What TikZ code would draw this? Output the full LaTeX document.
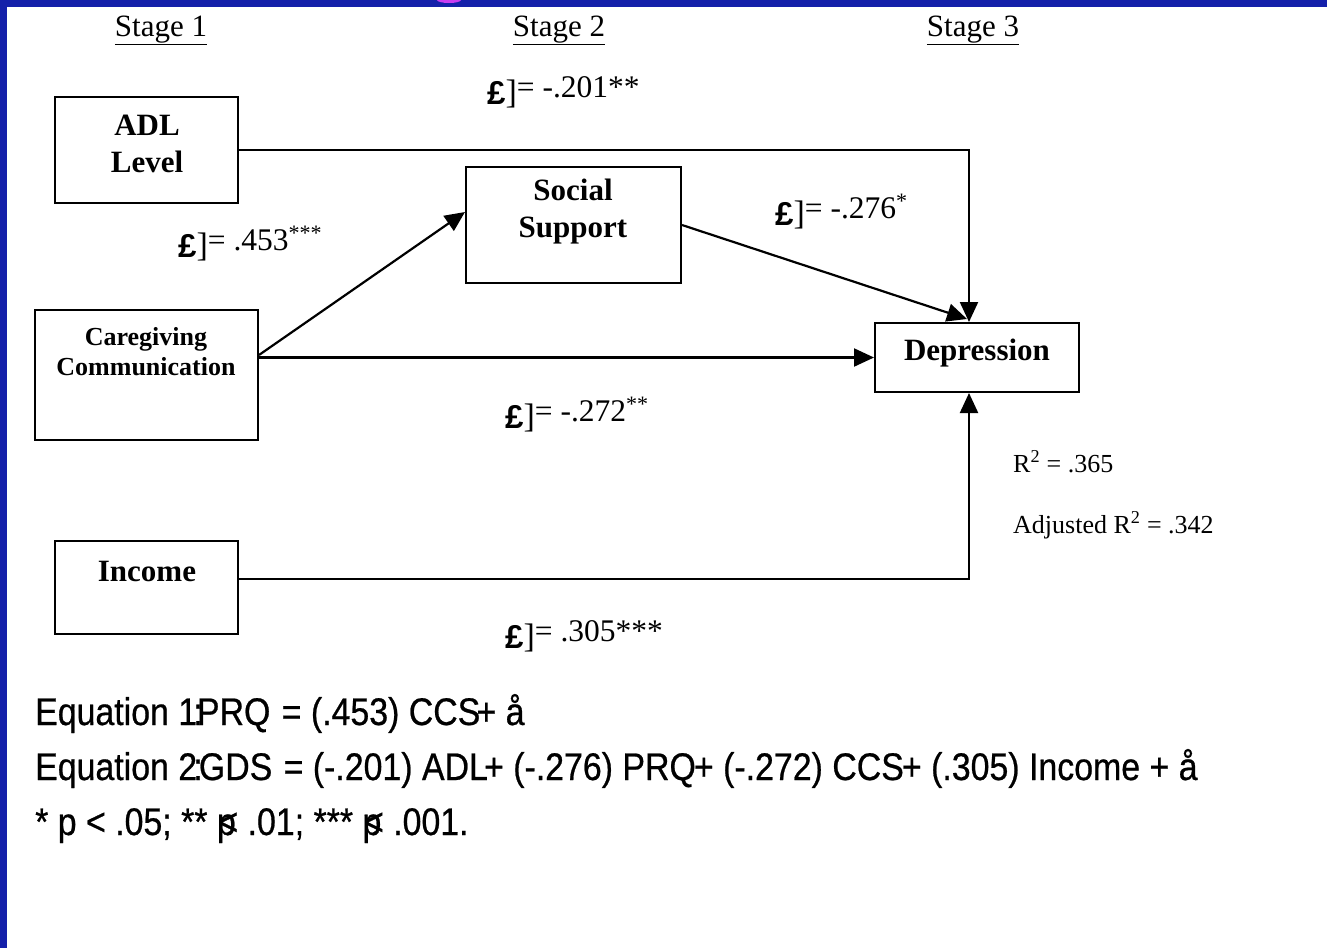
\documentclass[tikz,border=0pt]{standalone}
\usepackage{fontspec}
\setmainfont{Liberation Serif}
\newfontfamily\lsans{Liberation Sans}
\newfontfamily\eqfont[FakeStretch=0.88,FakeBold=0.6]{Liberation Sans}
\usetikzlibrary{arrows.meta}
\definecolor{slideblue}{RGB}{20,32,170}
\definecolor{slidemag}{RGB}{200,60,240}
\newcommand{\betalbl}{\raisebox{-7pt}{\fontsize{33}{36}\lsans\bfseries £}\raisebox{-6pt}{\fontsize{34}{36}\selectfont ]}}
\begin{document}
\begin{tikzpicture}[x=1pt,y=-1pt,
  box/.style={draw, line width=2pt, inner sep=0pt, fill=white},
  btxt/.style={inner sep=0pt, align=center, font=\fontsize{31}{37}\selectfont\bfseries},
  stxt/.style={inner sep=0pt, align=center, font=\fontsize{26}{30}\selectfont\bfseries},
  conn/.style={line width=2.2pt, -{Triangle[length=20pt,width=18pt]}},
  lbl/.style={inner sep=0pt, anchor=base west, font=\fontsize{31.5}{34}\selectfont},
  rlbl/.style={inner sep=0pt, anchor=base west, font=\fontsize{26}{30}\selectfont},
  stage/.style={inner sep=0pt, anchor=base, font=\fontsize{31}{36}\selectfont},
  eq/.style={inner sep=0pt, anchor=base west, font=\fontsize{38.5}{40}\eqfont}]
\useasboundingbox (0,0) rectangle (1327,948);
\fill[white] (0,0) rectangle (1327,948);
\fill[slideblue] (0,0) rectangle (1327,7);
\fill[slideblue] (0,0) rectangle (7,948);
\fill[slidemag] (449,0) ellipse [x radius=12, y radius=3];

% stage headings
\node[stage] (s1) at (161,36) {\underline{Stage 1}};
\node[stage] (s2) at (559,36) {\underline{Stage 2}};
\node[stage] (s3) at (973,36) {\underline{Stage 3}};

% boxes
\node[box, minimum width=183pt, minimum height=106pt] (adl) at (146.5,150) {};
\node[btxt] (adlt) at (147,144) {ADL\\Level};
\node[box, minimum width=215pt, minimum height=116pt] (ss) at (573.5,225) {};
\node[btxt] (sst) at (573,212) {Social\\Support};
\node[box, minimum width=223pt, minimum height=130pt] (cg) at (146.5,375) {};
\node[stxt] (cgt) at (146,351.5) {Caregiving\\Communication};
\node[box, minimum width=204pt, minimum height=69pt] (dep) at (977,357.5) {};
\node[btxt] (dept) at (977,353) {Depression};
\node[box, minimum width=183pt, minimum height=93pt] (inc) at (146.5,587.5) {};
\node[btxt] (inct) at (147,571) {Income};

% connectors
\coordinate (dtop) at ([xshift=-8pt]dep.north);
\coordinate (dbot) at ([xshift=-8pt]dep.south);
\coordinate (incout) at ([yshift=8.5pt]inc.east);
\draw[conn] (adl.east) -- (adl.east -| dtop) -- (dtop);
\draw[conn] (incout) -- (incout -| dbot) -- (dbot);
\draw[conn] (ss.east) -- ([xshift=-10pt,yshift=3pt]dep.north);
\draw[conn] ([yshift=20pt]cg.east) -- ([yshift=13pt]ss.west);
\draw[conn] (cg.east |- dep.west) -- (dep.west);

% coefficient labels
\node[lbl] (b1) at (487,97) {\betalbl= -.201**};
\node[lbl] (b2) at (178,250) {\betalbl= .453\textsuperscript{***}};
\node[lbl] (b3) at (775,218) {\betalbl= -.276\textsuperscript{*}};
\node[lbl] (b4) at (505,421) {\betalbl= -.272\textsuperscript{**}};
\node[lbl] (b5) at (505,641) {\betalbl= .305***};
\node[rlbl] (r1) at (1013,472) {R\textsuperscript{2} = .365};
\node[rlbl] (r2) at (1013,533) {Adjusted R\textsuperscript{2} = .342};

% equations
\node[eq] (e1) at (35,725) {Equation 1\kern-.1em:\kern-.15em PRQ \kern.05em= (.453) CCS\kern-.1em+ å};
\node[eq] (e2) at (35,780) {Equation 2\kern-.1em:\kern-.1em GDS \kern.05em= (-.201) ADL\kern-.1em+ (-.276) PRQ\kern-.05em+ (-.272) CCS\kern-.05em+ (.305) Income + å};
\node[eq] (e3) at (35,835) {* p < .05; ** p\kern-.45em< .01; *** p\kern-.45em< .001.};
\end{tikzpicture}
\end{document}
